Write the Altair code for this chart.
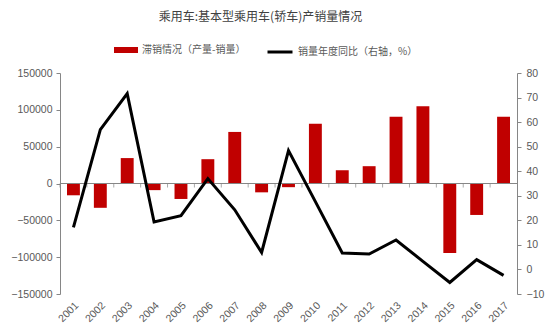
import altair as alt
import pandas as pd

years = [str(y) for y in range(2001, 2018)]
stock = [-16000, -33000, 34500, -9000, -21000, 33000, 70000, -12000, -5000,
         81000, 18000, 23500, 90500, 105000, -94500, -42700, 90500]
yoy = [17.1, 56.9, 71.6, 19.3, 21.9, 37.0, 24.3, 6.9, 48.4,
       27.6, 6.7, 6.3, 12.0, 3.3, -5.3, 4.0, -2.4]

bar_name = "滞销情况（产量-销量）"
line_name = "销量年度同比（右轴，%）"

df = pd.DataFrame({"year": years, "stock": stock, "yoy": yoy,
                   "s1": bar_name, "s2": line_name})

AX = "#868686"
LB = "#595959"
LF = "Liberation Sans"
CJK = "Noto Sans CJK SC"

xenc = alt.X("year:N", sort=years,
             scale=alt.Scale(paddingInner=0, paddingOuter=0),
             axis=alt.Axis(title=None, domain=False, ticks=False, labelAngle=-45,
                           labelPadding=6, labelColor=LB, labelFont=LF, labelFontSize=10.5))

yleft_axis = alt.Axis(title=None, values=list(range(-150000, 150001, 50000)), format="d",
                      grid=False, domainColor=AX, tickColor=AX, tickSize=4,
                      labelOverlap=False,
                      labelPadding=4, labelColor=LB, labelFont=LF, labelFontSize=10.5)

base = alt.Chart(df)

bars = base.mark_bar(color="#C00000", width=alt.RelativeBandSize(0.48)).encode(
    x=xenc,
    y=alt.Y("stock:Q", scale=alt.Scale(domain=[-150000, 150000], nice=False), axis=yleft_axis),
    fill=alt.Fill("s1:N", scale=alt.Scale(domain=[bar_name], range=["#C00000"]),
                  legend=alt.Legend(title=None, orient="none", legendX=54, legendY=-35,
                                    symbolType="M-1,-0.25L1,-0.25L1,0.25L-1,0.25Z",
                                    symbolSize=576, symbolStrokeWidth=0, padding=0,
                                    labelFont=CJK, labelFontSize=10, labelColor=LB,
                                    labelOffset=4)),
)

zero = base.mark_rule(color=AX, strokeWidth=1).encode(y=alt.Y(datum=0, axis=yleft_axis))

ticks = base.mark_tick(orient="vertical", size=4, thickness=1, color=AX, yOffset=2).encode(
    x=alt.X("year:N", sort=years, bandPosition=0,
            scale=alt.Scale(paddingInner=0, paddingOuter=0),
            axis=alt.Axis(title=None, domain=False, ticks=False, labelAngle=-45,
                          labelPadding=6, labelColor=LB, labelFont=LF, labelFontSize=10.5)),
    y=alt.Y(datum=0, axis=yleft_axis))

left = alt.layer(bars, zero, ticks)

line = base.mark_line(color="black", strokeWidth=3).encode(
    x=alt.X("year:N", sort=years),
    y=alt.Y("yoy:Q", scale=alt.Scale(domain=[-10, 80], nice=False),
            axis=alt.Axis(title=None, orient="right", values=list(range(-10, 81, 10)),
                          grid=False, domainColor=AX, tickColor=AX, tickSize=4,
                          labelOverlap=False,
                          labelPadding=5, labelColor=LB, labelFont=LF, labelFontSize=10.5)),
    stroke=alt.Stroke("s2:N", scale=alt.Scale(domain=[line_name], range=["black"]),
                      legend=alt.Legend(title=None, orient="none", legendX=206, legendY=-35,
                                        symbolType="stroke", symbolSize=625,
                                        symbolStrokeWidth=3, padding=0,
                                        labelFont=CJK, labelFontSize=10, labelColor=LB,
                                        labelOffset=4)),
)

chart = alt.layer(left, line).resolve_scale(y="independent", fill="independent",
                                            stroke="independent").properties(
    width=457, height=221,
    title=alt.TitleParams("乘用车:基本型乘用车(轿车)产销量情况", anchor="middle", dx=-28,
                          offset=14, font=CJK, fontSize=12, fontWeight="normal",
                          color="#404040"),
    autosize=alt.AutoSizeParams(type="none"),
    padding={"left": 60, "top": 73, "right": 37, "bottom": 40},
).configure_view(stroke=None).configure_axis(labelOverlap=False)

chart.save("out.html", embed_options={"renderer": "svg", "actions": False})
